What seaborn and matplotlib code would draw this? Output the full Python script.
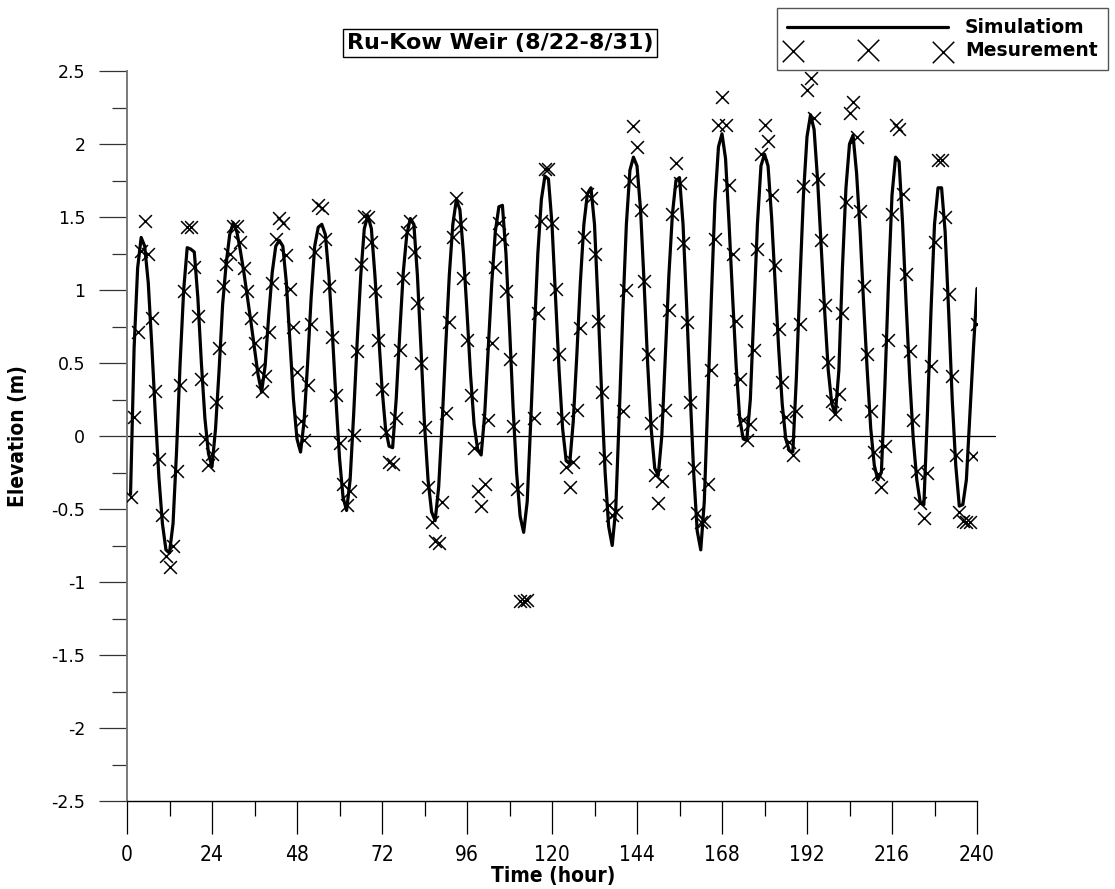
import numpy as np
import pandas as pd
import matplotlib
matplotlib.use("Agg")
import matplotlib.pyplot as plt
import seaborn as sns
from matplotlib.ticker import MultipleLocator, FuncFormatter

# ---------------- data ----------------
sim_hours = list(range(1, 241))
sim_elev = [
    -0.40, 0.60, 1.15, 1.36, 1.30, 1.05, 0.62, 0.15, -0.28, -0.60,
    -0.78, -0.80, -0.60, -0.10, 0.50, 1.00, 1.29, 1.28, 1.26, 0.95,
    0.50, 0.12, -0.12, -0.21, 0.05, 0.45, 0.90, 1.18, 1.38, 1.46,
    1.40, 1.27, 1.12, 0.95, 0.78, 0.60, 0.42, 0.30, 0.48, 0.82,
    1.12, 1.30, 1.34, 1.30, 1.05, 0.65, 0.25, -0.02, -0.11, 0.10,
    0.50, 0.95, 1.30, 1.43, 1.45, 1.38, 1.10, 0.70, 0.25, -0.15,
    -0.42, -0.51, -0.30, 0.15, 0.65, 1.10, 1.42, 1.51, 1.42, 1.10,
    0.72, 0.33, 0.05, -0.07, -0.08, 0.25, 0.70, 1.12, 1.38, 1.49,
    1.45, 1.10, 0.60, 0.08, -0.30, -0.52, -0.58, -0.35, 0.10, 0.62,
    1.10, 1.45, 1.62, 1.55, 1.25, 0.85, 0.42, 0.08, -0.09, -0.13,
    0.15, 0.60, 1.05, 1.40, 1.57, 1.58, 1.25, 0.75, 0.20, -0.25,
    -0.55, -0.66, -0.45, 0.10, 0.70, 1.25, 1.62, 1.78, 1.76, 1.45,
    0.95, 0.45, 0.05, -0.17, -0.19, 0.10, 0.55, 1.05, 1.45, 1.66,
    1.70, 1.45, 0.90, 0.30, -0.25, -0.62, -0.75, -0.50, 0.15, 0.85,
    1.45, 1.82, 1.91, 1.85, 1.55, 1.05, 0.50, 0.05, -0.22, -0.27,
    0.00, 0.55, 1.10, 1.52, 1.75, 1.77, 1.45, 0.90, 0.30, -0.25,
    -0.65, -0.78, -0.45, 0.25, 0.95, 1.60, 1.98, 2.07, 1.90, 1.45,
    0.95, 0.48, 0.12, -0.02, -0.03, 0.25, 0.85, 1.45, 1.85, 1.93,
    1.85, 1.50, 1.05, 0.60, 0.22, -0.02, -0.10, -0.11, 0.40, 1.05,
    1.65, 2.05, 2.20, 2.10, 1.75, 1.30, 0.85, 0.45, 0.22, 0.15,
    0.45, 1.15, 1.70, 2.00, 2.06, 1.80, 1.40, 0.90, 0.45, 0.05,
    -0.20, -0.30, -0.25, 0.35, 1.05, 1.65, 1.91, 1.88, 1.45, 0.90,
    0.40, -0.02, -0.30, -0.46, -0.47, 0.15, 0.85, 1.45, 1.70, 1.70,
    1.40, 0.85, 0.25, -0.20, -0.48, -0.47, -0.30, 0.15, 0.60, 1.01,
]

meas_hours = list(range(1, 114)) + list(range(115, 139)) + list(range(140, 241))
meas_elev = [
    -0.42, 0.13, 0.71, 1.27, 1.47, 1.25, 0.81, 0.31, -0.16, -0.54,
    -0.82, -0.90, -0.75, -0.24, 0.35, 0.99, 1.43, 1.43, 1.16, 0.82,
    0.39, -0.02, -0.20, -0.12, 0.23, 0.60, 1.03, 1.18, 1.25, 1.44,
    1.44, 1.33, 1.15, 0.99, 0.81, 0.64, 0.46, 0.31, 0.41, 0.71,
    1.05, 1.35, 1.49, 1.46, 1.24, 1.01, 0.75, 0.44, 0.10, -0.03,
    0.35, 0.77, 1.26, 1.58, 1.56, 1.35, 1.03, 0.68, 0.28, -0.05,
    -0.33, -0.47, -0.38, 0.01, 0.58, 1.18, 1.51, 1.50, 1.33, 0.99,
    0.66, 0.32, 0.03, -0.18, -0.19, 0.12, 0.59, 1.08, 1.40, 1.47,
    1.26, 0.91, 0.50, 0.06, -0.35, -0.59, -0.72, -0.73, -0.45, 0.16,
    0.78, 1.36, 1.63, 1.45, 1.08, 0.66, 0.28, -0.08, -0.38, -0.48,
    -0.33, 0.11, 0.64, 1.16, 1.46, 1.35, 0.99, 0.53, 0.07, -0.36,
    -1.13, -1.13, -1.12,
    0.12, 0.84, 1.47, 1.83, 1.83, 1.46, 1.01, 0.56, 0.12, -0.21,
    -0.35, -0.18, 0.18, 0.74, 1.36, 1.66, 1.63, 1.25, 0.79, 0.30,
    -0.15, -0.47, -0.54, -0.52,
    0.17, 1.00, 1.75, 2.12, 1.98, 1.55, 1.06, 0.56, 0.09, -0.27,
    -0.46, -0.31, 0.18, 0.86, 1.52, 1.87, 1.73, 1.32, 0.78, 0.23,
    -0.22, -0.53, -0.59, -0.58, -0.33, 0.45, 1.35, 2.13, 2.32, 2.13,
    1.72, 1.25, 0.79, 0.39, 0.11, -0.03, 0.08, 0.59, 1.28, 1.93,
    2.13, 2.02, 1.65, 1.17, 0.73, 0.37, 0.13, -0.04, -0.13, 0.17,
    0.77, 1.71, 2.37, 2.45, 2.18, 1.76, 1.34, 0.90, 0.51, 0.24,
    0.15, 0.29, 0.84, 1.60, 2.21, 2.29, 2.05, 1.54, 1.03, 0.56,
    0.17, -0.11, -0.26, -0.35, -0.07, 0.66, 1.52, 2.13, 2.10, 1.66,
    1.11, 0.58, 0.11, -0.24, -0.46, -0.56, -0.25, 0.48, 1.33, 1.89,
    1.89, 1.50, 0.97, 0.41, -0.13, -0.52, -0.58, -0.59, -0.59, -0.14,
    0.77,
]

x_ticks = [0, 24, 48, 72, 96, 120, 144, 168, 192, 216, 240]
title_text = "Ru-Kow Weir (8/22-8/31)"
sim_label = "Simulatiom"
meas_label = "Mesurement"
x_label = "Time (hour)"
y_label = "Elevation (m)"

# ---------------- style ----------------
sns.set_style("ticks")
plt.rcParams["axes.unicode_minus"] = False
plt.rcParams["font.family"] = ["DejaVu Sans"]
plt.rcParams["text.color"] = "black"

fig = plt.figure(figsize=(11.15, 8.89), dpi=100)
ax = fig.add_axes([127 / 1115, 1 - 801 / 889, 850 / 1115, 730 / 889])

sim_df = pd.DataFrame({"hour": sim_hours, "elev": sim_elev})
meas_df = pd.DataFrame({"hour": meas_hours, "elev": meas_elev})

ax.axhline(0, xmin=0, xmax=1.021, color="black", lw=0.9, clip_on=False, zorder=1)
sns.lineplot(data=sim_df, x="hour", y="elev", ax=ax, color="black",
             linewidth=2.3, label=sim_label, sort=False, estimator=None, zorder=3)
sns.scatterplot(data=meas_df, x="hour", y="elev", ax=ax, marker="x",
                color="black", s=85, linewidth=1.1, label=meas_label, zorder=4)

ax.set_xlim(0, 240)
ax.set_ylim(-2.5, 2.5)
ax.set_xticks(x_ticks)
ax.xaxis.set_minor_locator(MultipleLocator(12))
ax.yaxis.set_major_locator(MultipleLocator(0.5))
ax.yaxis.set_minor_locator(MultipleLocator(0.25))
ax.yaxis.set_major_formatter(FuncFormatter(lambda v, p: f"{v:g}"))

for s in ["top", "right"]:
    ax.spines[s].set_visible(False)
ax.spines["left"].set_color("#7a7a7a")
ax.spines["left"].set_linewidth(1.4)
ax.spines["bottom"].set_color("black")
ax.spines["bottom"].set_linewidth(1.0)

ax.tick_params(axis="x", which="both", bottom=True, top=False)
ax.tick_params(axis="y", which="both", left=True, right=False)
ax.tick_params(axis="x", which="major", direction="out", length=24, width=0.9,
               color="black", pad=8, labelsize=15, labelcolor="black")
ax.tick_params(axis="x", which="minor", direction="out", length=11, width=0.9,
               color="black")
ax.tick_params(axis="y", which="major", direction="out", length=20, width=0.9,
               color="#333333", pad=10, labelsize=12.5, labelcolor="black")
ax.tick_params(axis="y", which="minor", direction="out", length=11, width=0.9,
               color="#333333")
for lab in ax.get_xticklabels():
    lab.set_fontstretch("condensed")

ax.set_xlabel("")
ax.set_ylabel("")
fig.text(553 / 1115, 1 - 876 / 889, x_label, ha="center", va="center",
         fontsize=15, fontweight="bold", fontstretch="condensed", color="black")
fig.text(18 / 1115, 1 - 436 / 889, y_label, ha="center", va="center",
         rotation=90, fontsize=15, fontweight="bold", fontstretch="condensed",
         color="black")

fig.text(500 / 1115, 1 - 43 / 889, title_text, ha="center", va="center",
         fontsize=16, fontweight="bold", color="black",
         bbox=dict(boxstyle="square,pad=0.17", facecolor="white",
                   edgecolor="black", linewidth=1.0))

handles, labels = ax.get_legend_handles_labels()
if ax.legend_ is not None:
    ax.legend_.remove()
leg = fig.legend(handles, labels, loc="upper right",
                 bbox_to_anchor=(1108 / 1115, 1 - 8 / 889),
                 borderaxespad=0.0,
                 frameon=True, fancybox=False, edgecolor="#555555",
                 framealpha=1, scatterpoints=3, handlelength=8.6,
                 handletextpad=0.9, borderpad=0.55, labelspacing=0.2,
                 prop={"weight": "bold", "size": 13.5})
leg.get_frame().set_linewidth(1.0)
for t in leg.get_texts():
    t.set_color("black")
for h in leg.legend_handles:
    if hasattr(h, "set_sizes"):
        h.set_sizes([240])

fig.savefig("out.png", dpi=100)
